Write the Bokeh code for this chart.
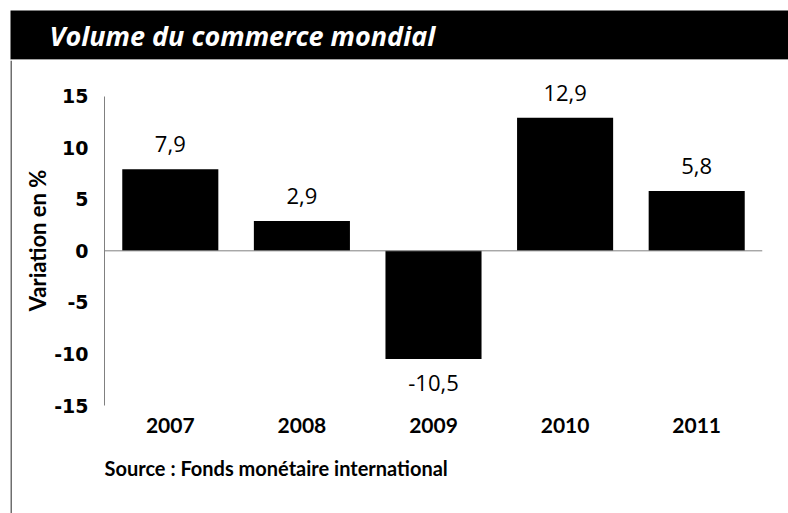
from bokeh.plotting import figure
from bokeh.layouts import column, row
from bokeh.models import (ColumnDataSource, Range1d, FactorRange, Span, Label, LabelSet,
                          FixedTicker, LinearAxis, CategoricalAxis, Title)
from bokeh.core.properties import value
from bokeh.embed import file_html
from bokeh.resources import INLINE

# ---- data ----
years = ["2007", "2008", "2009", "2010", "2011"]
variation = [7.9, 2.9, -10.5, 12.9, 5.8]
y_ticks = [-15, -10, -5, 0, 5, 10, 15]
title_text = "Volume du commerce mondial"
y_label = "Variation en %"
source_text = "Source :  Fonds monétaire international"

GRAY = "#808080"
W, H = 788, 513
TH = 60          # title strip height
SW = 12          # left strip width


def bare(fig):
    fig.axis.visible = False
    fig.grid.visible = False
    fig.outline_line_color = None
    fig.background_fill_color = "white"
    fig.border_fill_color = "white"
    fig.frame_align = False
    return fig


# ---- title strip ----
tf = bare(figure(width=W, height=TH, x_range=Range1d(0, W), y_range=Range1d(0, TH),
                 output_backend="svg", toolbar_location=None, min_border=0,
                 x_axis_location=None, y_axis_location=None))
tf.quad(left=[10], right=[W], bottom=[1], top=[TH - 10], fill_color="black", line_color=None)
tf.quad(left=[10], right=[W], bottom=[0], top=[1], fill_color="#c8c8c8", line_color=None)
tf.add_layout(Label(x=49, y=TH - 35, text=title_text, text_color="white",
                    text_font="Open Sans", text_font_style="bold italic",
                    text_font_size="27px", text_baseline="alphabetic"))

# ---- left border strip ----
sf = bare(figure(width=SW, height=H - TH, x_range=Range1d(0, SW), y_range=Range1d(0, 1),
                 output_backend="svg", toolbar_location=None, min_border=0,
                 x_axis_location=None, y_axis_location=None))
sf.quad(left=[10], right=[12], bottom=[0], top=[1], fill_color="#6e6e6e", line_color=None)

# ---- main chart ----
labels = [f"{v:.1f}".replace(".", ",") for v in variation]
pos = [v >= 0 for v in variation]
src_pos = ColumnDataSource(dict(x=[y for y, k in zip(years, pos) if k],
                                top=[v for v, k in zip(variation, pos) if k],
                                lab=[l for l, k in zip(labels, pos) if k]))
src_neg = ColumnDataSource(dict(x=[y for y, k in zip(years, pos) if not k],
                                top=[v for v, k in zip(variation, pos) if not k],
                                lab=[l for l, k in zip(labels, pos) if not k]))

MW, MH = W - SW, H - TH
p = figure(width=MW, height=MH, x_range=FactorRange(*years), y_range=Range1d(-15, 17),
           output_backend="svg", toolbar_location=None,
           min_border_left=104 - SW, min_border_right=MW - (762 - SW),
           min_border_top=75 - TH, min_border_bottom=MH - (405 - TH),
           x_axis_location=None, y_axis_location=None)
p.grid.visible = False
p.outline_line_color = None
p.background_fill_color = "white"
p.border_fill_color = "white"
p.frame_align = False

p.vbar(x="x", top="top", bottom=0, width=0.73, source=src_pos, fill_color="black", line_color=None)
p.vbar(x="x", top="top", bottom=0, width=0.73, source=src_neg, fill_color="black", line_color=None)

p.add_layout(Span(location=0, dimension="width", line_color=GRAY, line_width=1))

p.add_layout(LabelSet(x="x", y="top", text="lab", source=src_pos, text_align="center",
                      text_baseline="alphabetic", y_offset=17, text_font=value("Open Sans"),
                      text_font_size=value("22px"), text_color="black"))
p.add_layout(LabelSet(x="x", y="top", text="lab", source=src_neg, text_align="center",
                      text_baseline="alphabetic", y_offset=-32, text_font=value("Open Sans"),
                      text_font_size=value("22px"), text_color="black"))

ya = LinearAxis(ticker=FixedTicker(ticks=y_ticks), bounds=(-15, 15), axis_label=y_label)
ya.major_label_overrides = {t: str(t) for t in y_ticks}
ya.axis_line_color = GRAY
ya.major_tick_line_color = None
ya.minor_tick_line_color = None
ya.major_label_standoff = 10
ya.major_label_text_font = "DejaVu Sans"
ya.major_label_text_font_style = "bold"
ya.major_label_text_font_size = "19px"
ya.major_label_text_color = "black"
ya.axis_label_text_font = "Lato"
ya.axis_label_text_font_style = "bold"
ya.axis_label_text_font_size = "22px"
ya.axis_label_text_color = "black"
ya.axis_label_standoff = 0
p.add_layout(ya, "left")

xa = CategoricalAxis()
xa.axis_line_color = None
xa.major_tick_line_color = None
xa.minor_tick_line_color = None
xa.major_label_standoff = 6
xa.major_label_text_font = "Lato"
xa.major_label_text_font_style = "bold"
xa.major_label_text_font_size = "21px"
xa.major_label_text_color = "black"
p.add_layout(xa, "below")

p.add_layout(Title(text=source_text, align="left", text_font="Lato",
                   text_font_style="bold", text_font_size="20px", text_color="black",
                   standoff=36), "below")

layout = column(tf, row(sf, p))
open("out.html", "w").write(file_html(layout, INLINE))
